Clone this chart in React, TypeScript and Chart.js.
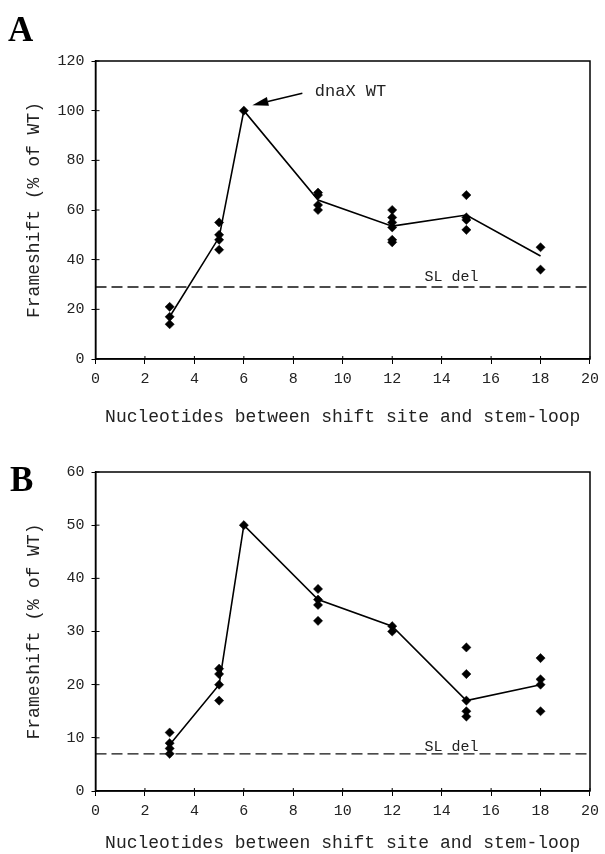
import React, { useEffect, useRef } from "react";
import { Chart, registerables } from "chart.js";

Chart.register(...registerables);

// ---------- data ----------
const xPositions = [3, 5, 6, 9, 12, 15, 18];
const xAxisTitle = "Nucleotides between shift site and stem-loop";
const yAxisTitle = "Frameshift (% of WT)";

const panelAReplicates = [
  [21, 17, 14],
  [55, 50, 48, 44],
  [100],
  [67, 66, 62, 60],
  [60, 57, 55, 53, 48, 47],
  [66, 57, 56, 52],
  [45, 36],
];
const panelAMeans = [17, 49, 100, 64, 53.5, 58, 41.5];
const panelASlDel = 29;
const panelAYMax = 120;
const panelAYStep = 20;

const panelBReplicates = [
  [11, 9, 8, 7],
  [23, 22, 20, 17],
  [50],
  [38, 36, 35, 32],
  [31, 30],
  [27, 22, 17, 15, 14],
  [25, 21, 20, 15],
];
const panelBMeans = [8.7, 20, 50, 36, 31, 17, 20];
const panelBSlDel = 7;
const panelBYMax = 60;
const panelBYStep = 10;

const xMax = 20;
const xStep = 2;
const slDelLabel = "SL del";
const wtLabel = "dnaX WT";
const wtIndex = 2;

const MONO = "'Liberation Mono', 'Courier New', monospace";
const LETTER_FONT = "bold 35px 'Liberation Serif', serif";

type PanelProps = {
  letter: string;
  replicates: number[][];
  means: number[];
  slDel: number;
  yMax: number;
  yStep: number;
  top: number;
  height: number;
  areaTop: number;
  areaBottom: number;
  letterX: number;
  letterY: number;
  slLabelX: number;
  slLabelGap: number;
  showArrow: boolean;
  titlePadBottom: number;
};

function Panel(p: PanelProps) {
  const ref = useRef<HTMLCanvasElement | null>(null);

  useEffect(() => {
    const canvas = ref.current;
    if (!canvas) return;

    const scatterData: { x: number; y: number }[] = [];
    p.replicates.forEach((vals, i) =>
      vals.forEach((v) => scatterData.push({ x: xPositions[i], y: v }))
    );
    const meanData = xPositions.map((x, i) => ({ x, y: p.means[i] }));
    const slData = [
      { x: 0, y: p.slDel },
      { x: xMax, y: p.slDel },
    ];

    const decor = {
      id: "decor",
      afterDraw(chart: any) {
        const { ctx, chartArea: a } = chart;
        const xs = chart.scales.x;
        const ys = chart.scales.y;
        ctx.save();
        ctx.strokeStyle = "#000";
        ctx.lineWidth = 1.5;
        ctx.strokeRect(a.left, a.top, a.right - a.left, a.bottom - a.top);
        // inner tick parts
        ctx.lineWidth = 1;
        ctx.beginPath();
        xs.ticks.forEach((t: any) => {
          const px = xs.getPixelForValue(t.value);
          ctx.moveTo(px, a.bottom);
          ctx.lineTo(px, a.bottom - 3);
        });
        ys.ticks.forEach((t: any) => {
          const py = ys.getPixelForValue(t.value);
          ctx.moveTo(a.left, py);
          ctx.lineTo(a.left + 4, py);
        });
        ctx.stroke();

        // panel letter
        ctx.fillStyle = "#000";
        ctx.font = LETTER_FONT;
        ctx.textAlign = "left";
        ctx.textBaseline = "alphabetic";
        ctx.fillText(p.letter, p.letterX, p.letterY);

        // SL del label
        ctx.fillStyle = "#222";
        ctx.font = "15px " + MONO;
        ctx.textAlign = "center";
        ctx.fillText(
          slDelLabel,
          xs.getPixelForValue(p.slLabelX),
          ys.getPixelForValue(p.slDel) - p.slLabelGap
        );

        if (p.showArrow) {
          const px = xs.getPixelForValue(xPositions[wtIndex]);
          const py = ys.getPixelForValue(p.means[wtIndex]);
          const tipX = px + 8.5;
          const tipY = py - 5.5;
          const tailX = px + 58.5;
          const tailY = py - 17.5;
          const ang = Math.atan2(tipY - tailY, tipX - tailX);
          const hl = 16;
          const hw = 4.5;
          const bx = tipX - hl * Math.cos(ang);
          const by = tipY - hl * Math.sin(ang);
          ctx.strokeStyle = "#000";
          ctx.lineWidth = 1.5;
          ctx.beginPath();
          ctx.moveTo(tailX, tailY);
          ctx.lineTo(bx, by);
          ctx.stroke();
          ctx.fillStyle = "#000";
          ctx.beginPath();
          ctx.moveTo(tipX, tipY);
          ctx.lineTo(bx + hw * Math.sin(ang), by - hw * Math.cos(ang));
          ctx.lineTo(bx - hw * Math.sin(ang), by + hw * Math.cos(ang));
          ctx.closePath();
          ctx.fill();
          ctx.fillStyle = "#222";
          ctx.font = "17px " + MONO;
          ctx.textAlign = "left";
          ctx.textBaseline = "middle";
          ctx.fillText(wtLabel, px + 71, py - 19);
        }
        ctx.restore();
      },
    };

    const xBoxHeight = p.height - p.areaBottom;

    const chart = new Chart(canvas, {
      type: "scatter",
      data: {
        datasets: [
          {
            type: "line",
            data: slData,
            borderColor: "#111",
            borderWidth: 1.3,
            borderDash: [11, 5],
            pointRadius: 0,
            fill: false,
          } as any,
          {
            type: "line",
            data: meanData,
            borderColor: "#000",
            borderWidth: 1.6,
            pointRadius: 0,
            tension: 0,
            fill: false,
          } as any,
          {
            type: "scatter",
            data: scatterData,
            pointStyle: "rectRot",
            pointRadius: 4.6,
            backgroundColor: "#000",
            borderColor: "#000",
            borderWidth: 0.5,
          } as any,
        ],
      },
      options: {
        animation: false,
        responsive: false,
        devicePixelRatio: 1,
        events: [],
        layout: { padding: { left: 0, right: 10.5, top: p.areaTop, bottom: 0 } },
        plugins: { legend: { display: false }, tooltip: { enabled: false } },
        scales: {
          x: {
            type: "linear",
            min: 0,
            max: xMax,
            ticks: {
              stepSize: xStep,
              font: { family: MONO, size: 15 },
              color: "#222",
              padding: 6,
              maxRotation: 0,
            },
            grid: {
              drawOnChartArea: false,
              drawTicks: true,
              tickLength: 5,
              color: "#000",
              lineWidth: 1,
            },
            border: { display: true, color: "#000", width: 1.5 },
            title: {
              display: true,
              text: xAxisTitle,
              font: { family: MONO, size: 18 },
              color: "#222",
              padding: { top: 0, bottom: p.titlePadBottom },
            },
            afterFit(s: any) {
              s.height = xBoxHeight;
            },
          },
          y: {
            type: "linear",
            min: 0,
            max: p.yMax,
            ticks: {
              stepSize: p.yStep,
              font: { family: MONO, size: 15 },
              color: "#222",
              padding: 7,
            },
            grid: {
              drawOnChartArea: false,
              drawTicks: true,
              tickLength: 4,
              color: "#000",
              lineWidth: 1,
            },
            border: { display: true, color: "#000", width: 1.5 },
            title: {
              display: true,
              text: yAxisTitle,
              font: { family: MONO, size: 18 },
              color: "#222",
              padding: { top: 23, bottom: 0 },
            },
            afterFit(s: any) {
              s.width = 95.5;
            },
          },
        },
      },
      plugins: [decor],
    } as any);

    return () => chart.destroy();
  }, []);

  return (
    <canvas
      ref={ref}
      width={605}
      height={p.height}
      style={{ position: "absolute", left: 0, top: p.top, width: 605, height: p.height }}
    />
  );
}

export default function App() {
  return (
    <div style={{ position: "absolute", left: 0, top: 0, width: 605, height: 854, background: "#fff" }}>
      <Panel
        letter="A"
        replicates={panelAReplicates}
        means={panelAMeans}
        slDel={panelASlDel}
        yMax={panelAYMax}
        yStep={panelAYStep}
        top={0}
        height={430}
        areaTop={61}
        areaBottom={359}
        letterX={8}
        letterY={40.5}
        slLabelX={14.4}
        slLabelGap={5.5}
        showArrow={true}
        titlePadBottom={2}
      />
      <Panel
        letter="B"
        replicates={panelBReplicates}
        means={panelBMeans}
        slDel={panelBSlDel}
        yMax={panelBYMax}
        yStep={panelBYStep}
        top={430}
        height={424}
        areaTop={42}
        areaBottom={361}
        letterX={10}
        letterY={60.5}
        slLabelX={14.4}
        slLabelGap={3}
        showArrow={false}
        titlePadBottom={0}
      />
    </div>
  );
}
